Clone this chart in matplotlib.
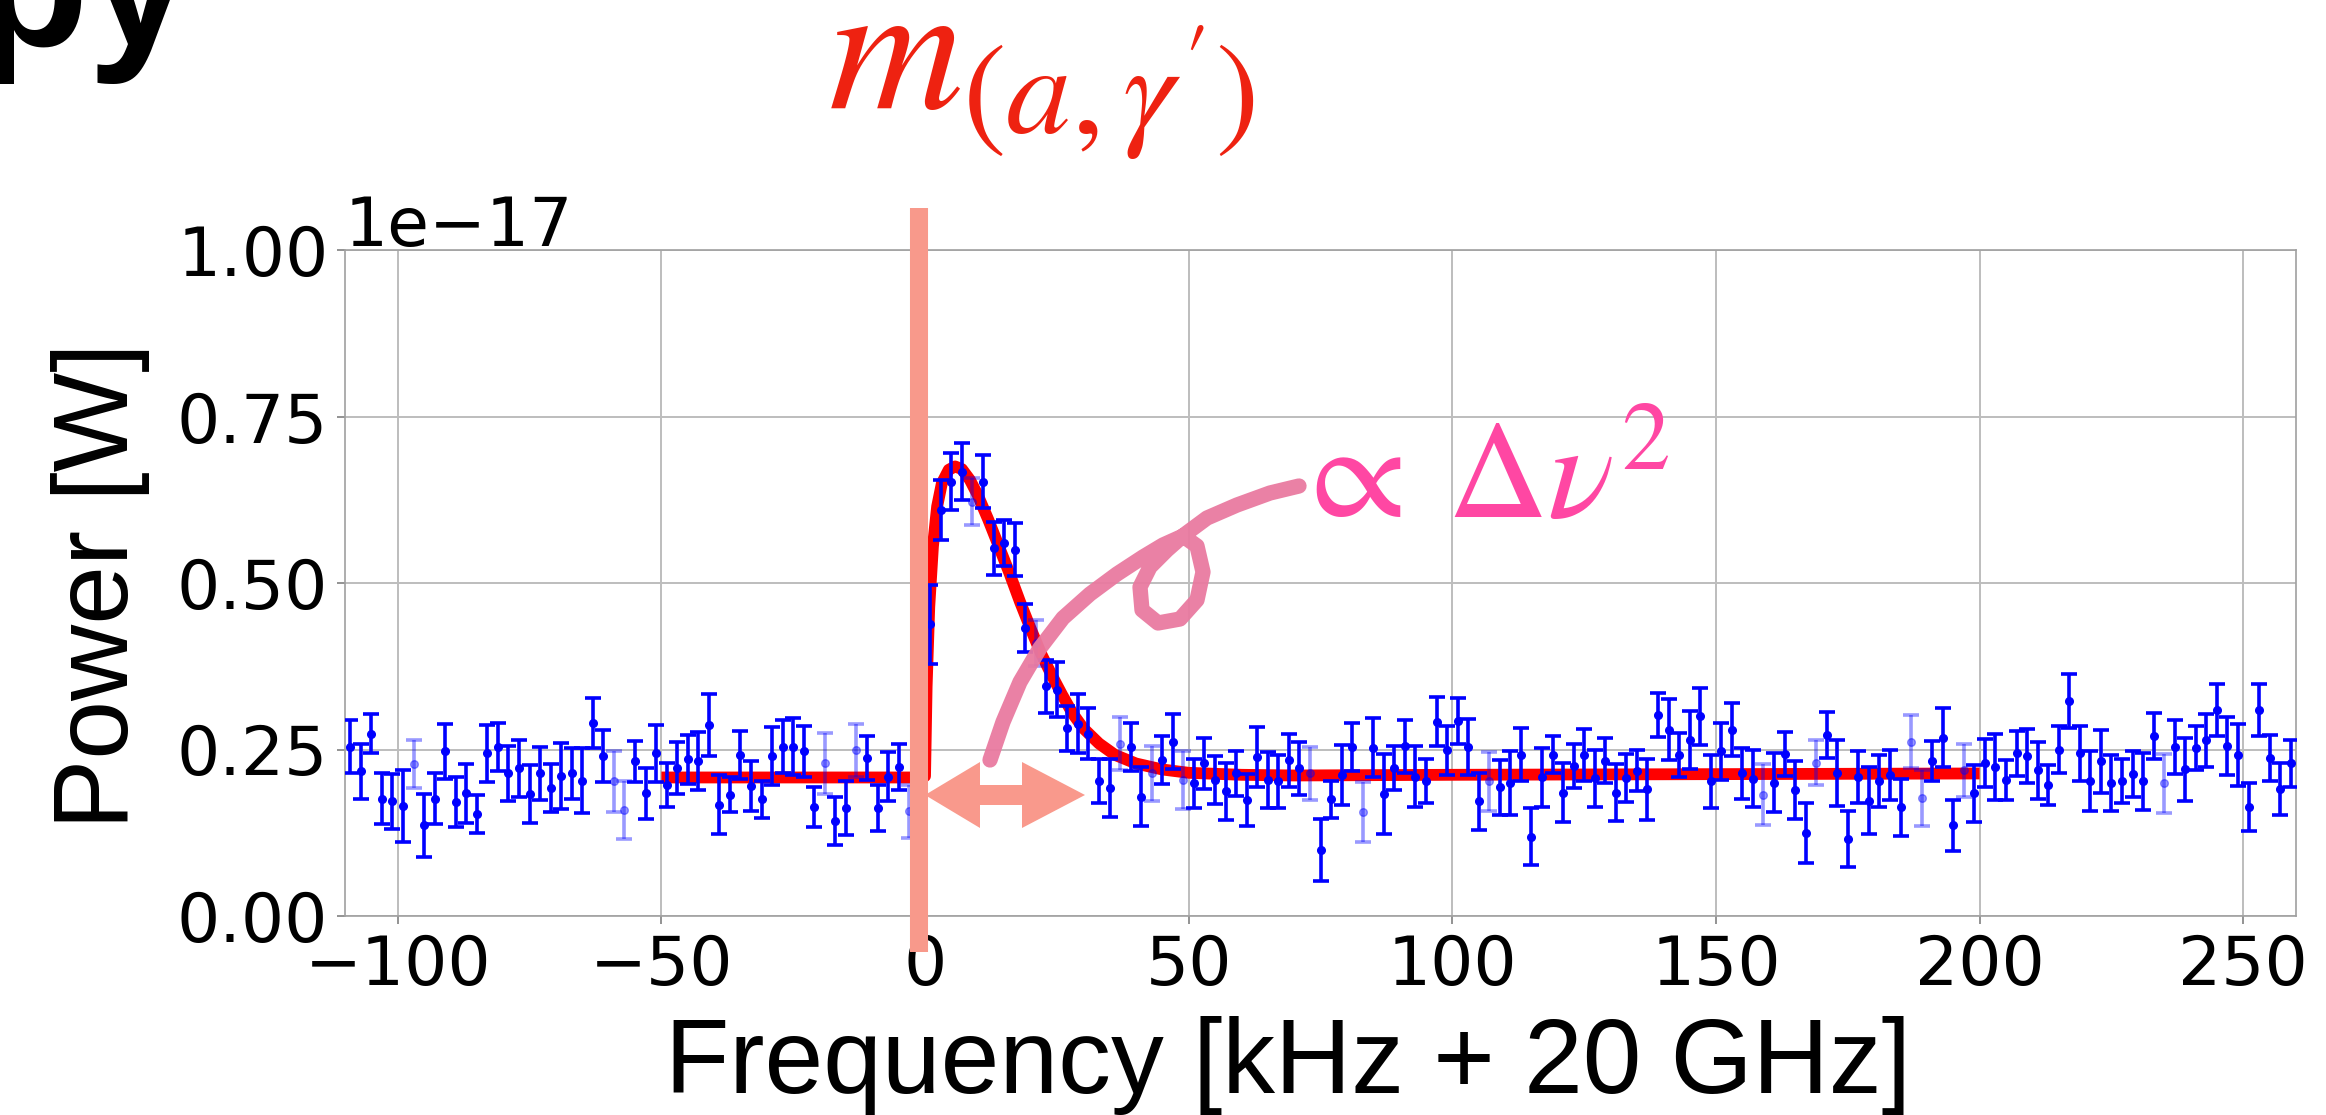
import numpy as np
import matplotlib
matplotlib.use('Agg')
import matplotlib.pyplot as plt
from matplotlib.lines import Line2D
from matplotlib.patches import Polygon

plt.rcParams['mathtext.fontset'] = 'stix'

W, H = 2326, 1115  # 输出像素

# 数据：频率 (kHz + 20 GHz)，每 2 kHz 一个点
freq = np.arange(-109, 261, 2)

# 功率 (单位 1e-17 W)
power = [
    0.254, 0.217, 0.274, 0.176, 0.172, 0.165, 0.228, 0.136, 0.176, 0.247,
    0.171, 0.184, 0.153, 0.244, 0.254, 0.214, 0.222, 0.183, 0.214, 0.192,
    0.210, 0.214, 0.203, 0.290, 0.240, 0.202, 0.159, 0.232, 0.184, 0.244,
    0.197, 0.222, 0.235, 0.233, 0.287, 0.167, 0.182, 0.242, 0.195, 0.175,
    0.240, 0.254, 0.254, 0.247, 0.164, 0.229,
    0.142, 0.162, 0.249, 0.237, 0.162, 0.209, 0.224, 0.157, 0.234,
    0.438, 0.610, 0.652, 0.667, 0.622, 0.652, 0.552, 0.560, 0.550, 0.433,
    0.410, 0.345, 0.340, 0.282, 0.289, 0.274, 0.202, 0.192, 0.259, 0.254,
    0.179, 0.214, 0.234, 0.262, 0.204, 0.199, 0.229, 0.204, 0.187, 0.214,
    0.174, 0.239, 0.204, 0.202, 0.234, 0.222, 0.214,
    0.099, 0.175, 0.212, 0.254, 0.156, 0.253, 0.183, 0.222, 0.255, 0.209,
    0.202, 0.292, 0.249, 0.293, 0.254, 0.172, 0.202, 0.193, 0.200, 0.242,
    0.119, 0.208, 0.242, 0.185, 0.225, 0.242, 0.207, 0.233, 0.185, 0.207,
    0.218, 0.190, 0.302, 0.280, 0.242, 0.264, 0.300, 0.202, 0.247, 0.280,
    0.214, 0.206, 0.182, 0.200, 0.243, 0.189, 0.124,
    0.230, 0.272, 0.215, 0.116, 0.209, 0.173, 0.203, 0.212, 0.163, 0.262,
    0.177, 0.233, 0.268, 0.136, 0.219, 0.184, 0.230, 0.224, 0.204, 0.244,
    0.240, 0.219, 0.197, 0.250, 0.323, 0.244, 0.203, 0.232, 0.200, 0.202,
    0.213, 0.202, 0.270, 0.199, 0.254, 0.220, 0.252, 0.264, 0.310, 0.255,
    0.242, 0.164, 0.309, 0.237, 0.190, 0.229,
]

# 误差
err = [
    0.040, 0.041, 0.030, 0.038, 0.041, 0.054, 0.036, 0.047, 0.038, 0.041,
    0.038, 0.044, 0.029, 0.043, 0.036, 0.041, 0.043, 0.043, 0.040, 0.036,
    0.050, 0.039, 0.049, 0.037, 0.039, 0.046, 0.044, 0.031, 0.038, 0.043,
    0.033, 0.039, 0.037, 0.044, 0.047, 0.044, 0.026, 0.036, 0.037, 0.028,
    0.044, 0.040, 0.043, 0.038, 0.030, 0.046,
    0.036, 0.040, 0.040, 0.033, 0.034, 0.037, 0.035, 0.040, 0.030,
    0.059, 0.045, 0.043, 0.043, 0.035, 0.040, 0.040, 0.035, 0.040, 0.036,
    0.035, 0.040, 0.041, 0.034, 0.045, 0.038, 0.033, 0.043, 0.040, 0.036,
    0.044, 0.042, 0.036, 0.041, 0.044, 0.037, 0.039, 0.036, 0.043, 0.034,
    0.039, 0.045, 0.042, 0.040, 0.040, 0.040, 0.040,
    0.047, 0.028, 0.045, 0.036, 0.045, 0.045, 0.060, 0.033, 0.040, 0.046,
    0.033, 0.037, 0.037, 0.034, 0.042, 0.043, 0.044, 0.041, 0.048, 0.040,
    0.043, 0.044, 0.028, 0.044, 0.033, 0.039, 0.043, 0.034, 0.043, 0.036,
    0.031, 0.046, 0.033, 0.046, 0.033, 0.044, 0.043, 0.040, 0.043, 0.040,
    0.039, 0.043, 0.046, 0.044, 0.033, 0.044, 0.045,
    0.034, 0.035, 0.050, 0.042, 0.039, 0.050, 0.039, 0.038, 0.043, 0.040,
    0.042, 0.030, 0.044, 0.038, 0.040, 0.043, 0.036, 0.050, 0.030, 0.034,
    0.041, 0.043, 0.030, 0.035, 0.040, 0.042, 0.045, 0.047, 0.042, 0.033,
    0.035, 0.043, 0.035, 0.044, 0.041, 0.047, 0.033, 0.040, 0.039, 0.044,
    0.047, 0.036, 0.039, 0.035, 0.039, 0.036,
]

# 颜色较淡的点
faint_freq = [-97, -59, -57, -19, -13, -3, 9, 21, 37, 43, 49, 73, 83, 107,
              159, 169, 187, 189, 197, 235]

# 拟合曲线
fit_x = [-50, -1, 0, 0.3, 0.8, 1.5, 2.3, 3.2, 4.5, 5.7, 7, 8.5, 10, 12, 14,
         16, 18, 20, 22, 24, 26, 28, 30, 33, 36, 40, 45, 50, 60, 70, 100,
         150, 200]
fit_y = [0.208, 0.208, 0.21, 0.344, 0.464, 0.555, 0.615, 0.65, 0.67, 0.675,
         0.671, 0.655, 0.632, 0.595, 0.555, 0.515, 0.472, 0.432, 0.394,
         0.362, 0.332, 0.304, 0.282, 0.259, 0.242, 0.229, 0.22, 0.215,
         0.212, 0.211, 0.212, 0.213, 0.214]

mass_freq = -1.1  # 竖线位置

# 手绘注释的像素坐标（左上角为原点）
scribble_px = [(990, 760), (1003, 722), (1020, 682), (1040, 648),
               (1063, 618), (1090, 594), (1117, 574), (1143, 557),
               (1163, 545), (1183, 536), (1197, 546), (1203, 572),
               (1197, 600), (1180, 619), (1158, 623), (1142, 610),
               (1140, 587), (1150, 567), (1167, 550), (1184, 535),
               (1207, 518), (1237, 505), (1270, 493), (1299, 486)]


def fig_xy(px, py):
    return px / W, 1 - py / H


fig = plt.figure(figsize=(W / 100, H / 100), dpi=100)
ax = fig.add_axes([345 / W, 1 - 916 / H, (2296 - 345) / W, (916 - 250) / H])

freq = np.array(freq)
power = np.array(power) * 1e-17
err = np.array(err) * 1e-17
faint = np.isin(freq, faint_freq)

ax.plot(np.array(fit_x), np.array(fit_y) * 1e-17, color='#ff0000', lw=8.5,
        solid_capstyle='butt', zorder=2)

for mask, a in [(~faint, 1.0), (faint, 0.4)]:
    ax.errorbar(freq[mask], power[mask], yerr=err[mask], fmt='o', ms=5.5,
                color='#0000ff', ecolor='#0000ff', elinewidth=2.6,
                capsize=6, capthick=2.6, alpha=a, zorder=3)

ax.plot([mass_freq, mass_freq], [-0.054e-17, 1.063e-17], color='#f8998b',
        lw=13, solid_capstyle='butt', clip_on=False, zorder=6)

ax.set_xlim(-110, 260)
ax.set_ylim(0, 1e-17)
ax.set_xticks([-100, -50, 0, 50, 100, 150, 200, 250])
ax.set_yticks([0, 0.25e-17, 0.5e-17, 0.75e-17, 1e-17])
ax.grid(True, color='#bdbdbd', lw=1.4)
ax.set_axisbelow(True)
for s in ax.spines.values():
    s.set_color('#a0a0a0')
    s.set_linewidth(1.2)
ax.tick_params(labelsize=49, length=6, width=1.2, color='#808080', pad=6)
ax.yaxis.get_offset_text().set_fontsize(49)

# 轴标签
fig.text(*fig_xy(1288, 1093), 'Frequency [kHz + 20 GHz]', fontsize=76,
         family='Liberation Sans', ha='center', va='baseline')
fig.text(*fig_xy(128, 586), 'Power [W]', fontsize=76, family='Liberation Sans',
         rotation=90, rotation_mode='anchor', ha='center', va='baseline')

# 标题残留
fig.text(*fig_xy(-24, 45), 'py', fontsize=133, fontweight='bold',
         family='Liberation Sans', ha='left', va='baseline')

fig.text(*fig_xy(828, 108), r"$m_{(a,\gamma')}$", fontsize=134,
         color='#ee2211', ha='left', va='baseline')
fig.text(*fig_xy(1290, 519), r"$\propto\:\Delta\nu^2$", fontsize=100,
         color='#ff47a3', ha='left', va='baseline')

sx, sy = zip(*[fig_xy(px, py) for px, py in scribble_px])
fig.add_artist(Line2D(sx, sy, transform=fig.transFigure, color='#e97aa0',
                      lw=11, alpha=0.95, solid_capstyle='round',
                      solid_joinstyle='round', zorder=7))

# 双向箭头
c = 795
arrow_px = [(925, c), (980, c - 33), (980, c - 10), (1022, c - 10),
            (1022, c - 33), (1085, c), (1022, c + 33), (1022, c + 10),
            (980, c + 10), (980, c + 33)]
fig.add_artist(Polygon([fig_xy(px, py) for px, py in arrow_px], closed=True,
                       transform=fig.transFigure, color='#f9998c', lw=0,
                       zorder=8))

fig.savefig('out.png', dpi=100)
